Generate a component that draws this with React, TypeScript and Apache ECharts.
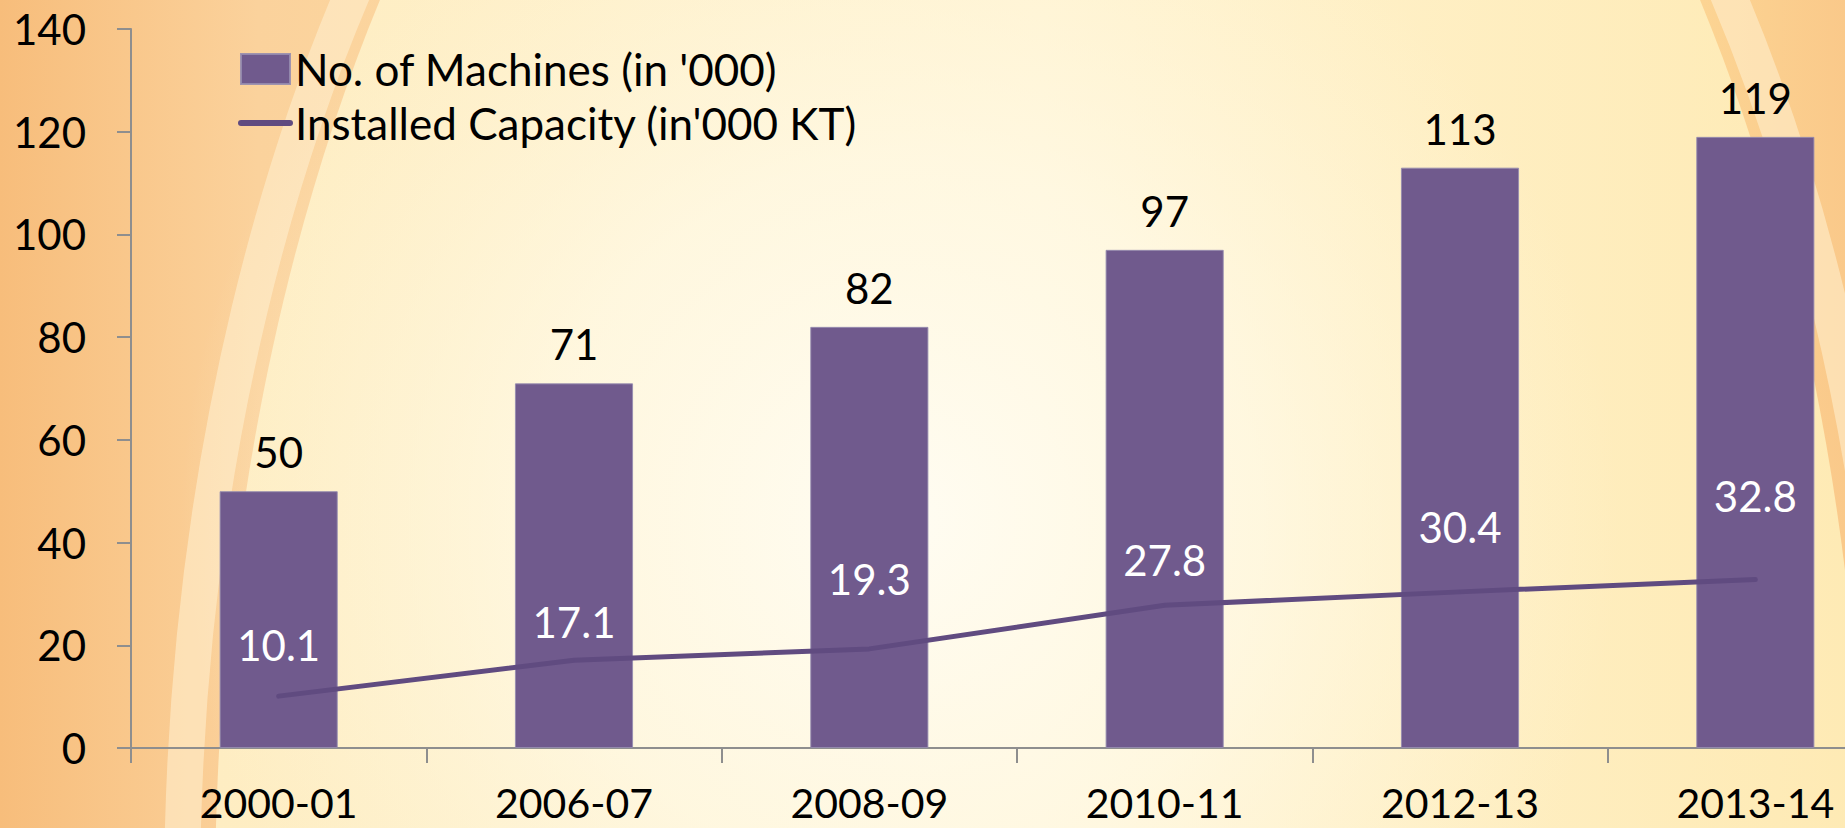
import React, { useEffect, useRef } from "react";
import * as echarts from "echarts";

const categories = ["2000-01", "2006-07", "2008-09", "2010-11", "2012-13", "2013-14"];
const machines = [50, 71, 82, 97, 113, 119];
const capacity = [10.1, 17.1, 19.3, 27.8, 30.4, 32.8];
const yTicks = [0, 20, 40, 60, 80, 100, 120, 140];
const barName = "No. of Machines (in '000)";
const lineName = "Installed Capacity (in'000 KT)";
// label lift (px) above each capacity point, as placed in the original slide
const capacityLabelLift = [29, 16, 48, 23, 43, 62];

const FONT = "Lato, 'Open Sans', sans-serif";

export default function App() {
  const ref = useRef<HTMLDivElement>(null);
  useEffect(() => {
    document.body.style.margin = "0";
    if (!ref.current) return;
    const chart = echarts.init(ref.current, null, { renderer: "svg" });
    const W = 1845, H = 828;
    chart.setOption({
      animation: false,
      backgroundColor: "#FBD594",
      graphic: {
        elements: [
          {
            type: "rect",
            z: -100,
            silent: true,
            shape: { x: 0, y: 0, width: W, height: H },
            style: {
              fill: new echarts.graphic.LinearGradient(0, 0, 1, 0, [
                { offset: 0, color: "#F7BD7B" },
                { offset: 0.14, color: "#FBD29C" },
                { offset: 0.5, color: "#FDE0A6" },
                { offset: 0.88, color: "#FDDA98" },
                { offset: 1, color: "#FAC98A" },
              ]),
            },
          },
          {
            type: "ellipse",
            z: -99,
            silent: true,
            shape: { cx: 1040, cy: 900, rx: 858, ry: 1515 },
            style: {
              fill: "none",
              stroke: "rgba(255,238,205,0.6)",
              lineWidth: 36,
            },
          },
          {
            type: "ellipse",
            z: -98,
            silent: true,
            shape: { cx: 1040, cy: 900, rx: 825, ry: 1500 },
            style: {
              fill: new echarts.graphic.LinearGradient(0, 0, 1, 0, [
                { offset: 0, color: "#FEEDC2" },
                { offset: 0.5, color: "#FFF3D0" },
                { offset: 1, color: "#FEEAB4" },
              ]),
            },
          },
          {
            type: "rect",
            z: -97,
            silent: true,
            shape: { x: 0, y: 0, width: W, height: H },
            style: {
              fill: new echarts.graphic.RadialGradient(
                900,
                520,
                720,
                [
                  { offset: 0, color: "rgba(255,253,244,0.95)" },
                  { offset: 0.5, color: "rgba(255,250,232,0.7)" },
                  { offset: 1, color: "rgba(255,246,220,0)" },
                ],
                true
              ),
            },
          },
        ],
      },
      legend: {
        orient: "vertical",
        left: 233,
        top: 42,
        itemWidth: 49,
        itemHeight: 30,
        itemGap: 10,
        textStyle: { fontFamily: FONT, fontSize: 44, color: "#000" },
        data: [
          { name: barName, icon: "rect" },
          { name: lineName, itemStyle: { opacity: 0 }, lineStyle: { width: 6 } },
        ],
      },
      grid: {
        left: 131,
        top: 29,
        bottom: 80,
        right: -58,
        containLabel: false,
        outerBoundsMode: "none",
      },
      xAxis: {
        type: "category",
        data: categories,
        boundaryGap: true,
        axisLine: { show: true, lineStyle: { color: "#8E8E8E", width: 2 } },
        axisTick: { show: true, length: 15, lineStyle: { color: "#8E8E8E", width: 2 } },
        axisLabel: {
          fontFamily: FONT,
          fontSize: 41,
          lineHeight: 34,
          color: "#000",
          margin: 37,
          interval: 0,
        },
        splitLine: { show: false },
      },
      yAxis: {
        type: "value",
        min: 0,
        max: 140,
        interval: 20,
        axisLine: { show: true, lineStyle: { color: "#8E8E8E", width: 2 } },
        axisTick: { show: true, length: 14, lineStyle: { color: "#8E8E8E", width: 2 } },
        axisLabel: {
          fontFamily: FONT,
          fontSize: 42,
          color: "#000",
          margin: 45,
          customValues: yTicks,
        },
        splitLine: { show: false },
      },
      series: [
        {
          name: barName,
          type: "bar",
          data: machines,
          barWidth: "40%",
          itemStyle: {
            color: "#705A8D",
            borderColor: "rgba(150,140,175,0.9)",
            borderWidth: 1,
          },
          label: {
            show: true,
            position: "top",
            distance: 18,
            fontFamily: FONT,
            fontSize: 42,
            lineHeight: 42,
            color: "#000",
          },
        },
        {
          name: lineName,
          type: "line",
          data: capacity.map((v, i) => ({
            value: v,
            label: { distance: capacityLabelLift[i] },
          })),
          symbol: "circle",
          symbolSize: 2,
          showSymbol: true,
          itemStyle: { color: "#604B80" },
          lineStyle: { color: "#604B80", width: 5, cap: "round" },
          label: {
            show: true,
            position: "top",
            distance: 30,
            fontFamily: FONT,
            fontSize: 42,
            lineHeight: 42,
            color: "#FFFFFF",
          },
          z: 3,
        },
      ],
    });
    return () => chart.dispose();
  }, []);
  return <div ref={ref} style={{ width: 1845, height: 828 }} />;
}
